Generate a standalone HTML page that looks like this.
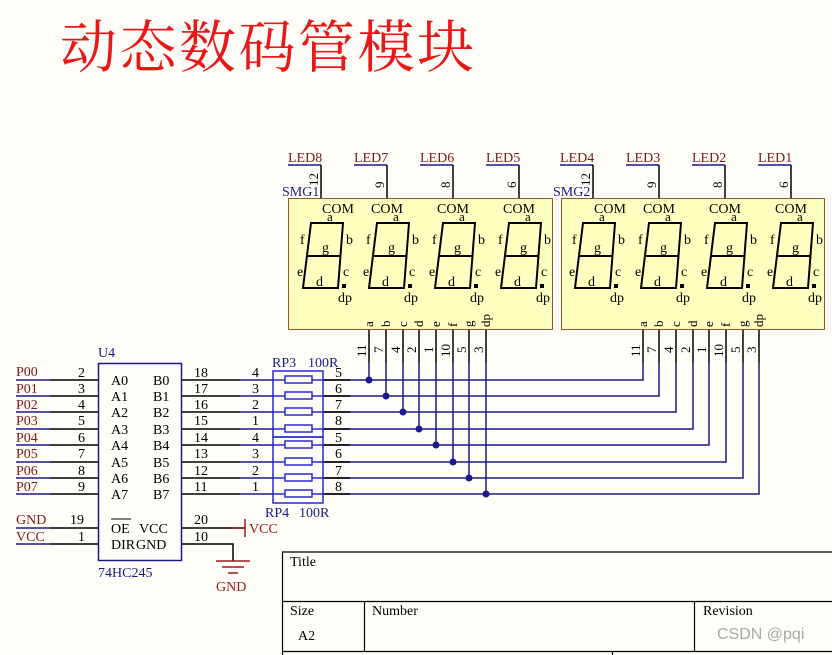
<!DOCTYPE html>
<html><head><meta charset="utf-8"><style>
html,body{margin:0;padding:0;background:#fffdf8;}
svg{display:block;font-family:"Liberation Serif","Noto Serif CJK SC",serif;}
</style></head><body>
<svg width="832" height="655" viewBox="0 0 832 655" xmlns="http://www.w3.org/2000/svg">
<rect width="832" height="655" fill="#fffdf8"/>
<text x="60" y="67" font-size="57" fill="#e81818" font-family="'Noto Serif CJK SC',serif" textLength="414">动态数码管模块</text>

<rect x="288.5" y="198.5" width="264" height="131" fill="#ffffc0" stroke="#a0522d" stroke-width="1"/>
<rect x="561.5" y="198.5" width="263" height="131" fill="#ffffc0" stroke="#a0522d" stroke-width="1"/>
<text x="282" y="196" font-size="14" fill="#1a1a8c">SMG1</text>
<text x="553" y="196" font-size="14" fill="#1a1a8c">SMG2</text>

<g font-size="14" fill="#7a1a1a">
<text x="288" y="162">LED8</text><text x="354" y="162">LED7</text><text x="420" y="162">LED6</text><text x="486" y="162">LED5</text>
<text x="560" y="162">LED4</text><text x="626" y="162">LED3</text><text x="692" y="162">LED2</text><text x="758" y="162">LED1</text>
</g>
<g stroke="#1a1a8c" stroke-width="1.5">
<line x1="288" y1="165" x2="321" y2="165"/><line x1="354" y1="165" x2="387" y2="165"/><line x1="420" y1="165" x2="453" y2="165"/><line x1="486" y1="165" x2="519" y2="165"/>
<line x1="560" y1="165" x2="593" y2="165"/><line x1="626" y1="165" x2="659" y2="165"/><line x1="692" y1="165" x2="725" y2="165"/><line x1="758" y1="165" x2="791" y2="165"/>
</g>
<g stroke="#000" stroke-width="1.5">
<line x1="321" y1="165" x2="321" y2="198"/><line x1="387" y1="165" x2="387" y2="198"/><line x1="453" y1="165" x2="453" y2="198"/><line x1="519" y1="165" x2="519" y2="198"/>
<line x1="593" y1="165" x2="593" y2="198"/><line x1="659" y1="165" x2="659" y2="198"/><line x1="725" y1="165" x2="725" y2="198"/><line x1="791" y1="165" x2="791" y2="198"/>
</g>
<g font-size="13" fill="#000">
<text transform="translate(318,186) rotate(-90)">12</text><text transform="translate(384,188) rotate(-90)">9</text><text transform="translate(450,188) rotate(-90)">8</text><text transform="translate(516,188) rotate(-90)">6</text>
<text transform="translate(590,186) rotate(-90)">12</text><text transform="translate(656,188) rotate(-90)">9</text><text transform="translate(722,188) rotate(-90)">8</text><text transform="translate(788,188) rotate(-90)">6</text>
</g>

<g font-size="14" fill="#000">
<g fill="none" stroke="#000" stroke-width="2"><polygon points="311,223 343,223 338,288 303,288"/><line x1="307" y1="256" x2="341" y2="256"/></g>
<text x="327" y="221" font-size="13">a</text><text x="300" y="244">f</text><text x="322" y="252">g</text><text x="346" y="244">b</text><text x="297" y="276">e</text><text x="316" y="286">d</text><text x="343" y="276">c</text><rect x="342" y="284" width="4" height="4"/><text x="338" y="302">dp</text>
</g>
<g font-size="14" fill="#000">
<text x="322" y="213">COM</text>
<text x="371" y="213">COM</text><text x="437" y="213">COM</text><text x="503" y="213">COM</text>
<text x="594" y="213">COM</text>
<text x="643" y="213">COM</text><text x="709" y="213">COM</text><text x="775" y="213">COM</text>
</g>
<g transform="translate(66,0)" font-size="14" fill="#000"><g fill="none" stroke="#000" stroke-width="2"><polygon points="311,223 343,223 338,288 303,288"/><line x1="307" y1="256" x2="341" y2="256"/></g><text x="327" y="221" font-size="13">a</text><text x="300" y="244">f</text><text x="322" y="252">g</text><text x="346" y="244">b</text><text x="297" y="276">e</text><text x="316" y="286">d</text><text x="343" y="276">c</text><rect x="342" y="284" width="4" height="4"/><text x="338" y="302">dp</text></g>
<g transform="translate(132,0)" font-size="14" fill="#000"><g fill="none" stroke="#000" stroke-width="2"><polygon points="311,223 343,223 338,288 303,288"/><line x1="307" y1="256" x2="341" y2="256"/></g><text x="327" y="221" font-size="13">a</text><text x="300" y="244">f</text><text x="322" y="252">g</text><text x="346" y="244">b</text><text x="297" y="276">e</text><text x="316" y="286">d</text><text x="343" y="276">c</text><rect x="342" y="284" width="4" height="4"/><text x="338" y="302">dp</text></g>
<g transform="translate(198,0)" font-size="14" fill="#000"><g fill="none" stroke="#000" stroke-width="2"><polygon points="311,223 343,223 338,288 303,288"/><line x1="307" y1="256" x2="341" y2="256"/></g><text x="327" y="221" font-size="13">a</text><text x="300" y="244">f</text><text x="322" y="252">g</text><text x="346" y="244">b</text><text x="297" y="276">e</text><text x="316" y="286">d</text><text x="343" y="276">c</text><rect x="342" y="284" width="4" height="4"/><text x="338" y="302">dp</text></g>
<g transform="translate(272,0)" font-size="14" fill="#000"><g fill="none" stroke="#000" stroke-width="2"><polygon points="311,223 343,223 338,288 303,288"/><line x1="307" y1="256" x2="341" y2="256"/></g><text x="327" y="221" font-size="13">a</text><text x="300" y="244">f</text><text x="322" y="252">g</text><text x="346" y="244">b</text><text x="297" y="276">e</text><text x="316" y="286">d</text><text x="343" y="276">c</text><rect x="342" y="284" width="4" height="4"/><text x="338" y="302">dp</text></g>
<g transform="translate(338,0)" font-size="14" fill="#000"><g fill="none" stroke="#000" stroke-width="2"><polygon points="311,223 343,223 338,288 303,288"/><line x1="307" y1="256" x2="341" y2="256"/></g><text x="327" y="221" font-size="13">a</text><text x="300" y="244">f</text><text x="322" y="252">g</text><text x="346" y="244">b</text><text x="297" y="276">e</text><text x="316" y="286">d</text><text x="343" y="276">c</text><rect x="342" y="284" width="4" height="4"/><text x="338" y="302">dp</text></g>
<g transform="translate(404,0)" font-size="14" fill="#000"><g fill="none" stroke="#000" stroke-width="2"><polygon points="311,223 343,223 338,288 303,288"/><line x1="307" y1="256" x2="341" y2="256"/></g><text x="327" y="221" font-size="13">a</text><text x="300" y="244">f</text><text x="322" y="252">g</text><text x="346" y="244">b</text><text x="297" y="276">e</text><text x="316" y="286">d</text><text x="343" y="276">c</text><rect x="342" y="284" width="4" height="4"/><text x="338" y="302">dp</text></g>
<g transform="translate(470,0)" font-size="14" fill="#000"><g fill="none" stroke="#000" stroke-width="2"><polygon points="311,223 343,223 338,288 303,288"/><line x1="307" y1="256" x2="341" y2="256"/></g><text x="327" y="221" font-size="13">a</text><text x="300" y="244">f</text><text x="322" y="252">g</text><text x="346" y="244">b</text><text x="297" y="276">e</text><text x="316" y="286">d</text><text x="343" y="276">c</text><rect x="342" y="284" width="4" height="4"/><text x="338" y="302">dp</text></g>

<g font-size="13" fill="#000">
<text transform="translate(373,327) rotate(-90)">a</text><text transform="translate(390,327) rotate(-90)">b</text><text transform="translate(407,327) rotate(-90)">c</text><text transform="translate(423,327) rotate(-90)">d</text><text transform="translate(440,327) rotate(-90)">e</text><text transform="translate(457,327) rotate(-90)">f</text><text transform="translate(473,327) rotate(-90)">g</text><text transform="translate(490,327) rotate(-90)">dp</text>
<text transform="translate(647,327) rotate(-90)">a</text><text transform="translate(663,327) rotate(-90)">b</text><text transform="translate(680,327) rotate(-90)">c</text><text transform="translate(697,327) rotate(-90)">d</text><text transform="translate(713,327) rotate(-90)">e</text><text transform="translate(730,327) rotate(-90)">f</text><text transform="translate(747,327) rotate(-90)">g</text><text transform="translate(763,327) rotate(-90)">dp</text>
<text transform="translate(366,357) rotate(-90)">11</text><text transform="translate(383,353) rotate(-90)">7</text><text transform="translate(400,353) rotate(-90)">4</text><text transform="translate(416,353) rotate(-90)">2</text><text transform="translate(433,353) rotate(-90)">1</text><text transform="translate(450,357) rotate(-90)">10</text><text transform="translate(466,353) rotate(-90)">5</text><text transform="translate(483,353) rotate(-90)">3</text>
<text transform="translate(640,357) rotate(-90)">11</text><text transform="translate(656,353) rotate(-90)">7</text><text transform="translate(673,353) rotate(-90)">4</text><text transform="translate(690,353) rotate(-90)">2</text><text transform="translate(706,353) rotate(-90)">1</text><text transform="translate(723,357) rotate(-90)">10</text><text transform="translate(740,353) rotate(-90)">5</text><text transform="translate(756,353) rotate(-90)">3</text>
</g>

<g fill="none" stroke="#1a1a8c" stroke-width="1.5">
<polyline points="323,380 643,380 643,363"/>
<polyline points="323,396 659,396 659,363"/>
<polyline points="323,412 676,412 676,363"/>
<polyline points="323,429 693,429 693,363"/>
<polyline points="323,445 709,445 709,363"/>
<polyline points="323,462 726,462 726,363"/>
<polyline points="323,478 743,478 743,363"/>
<polyline points="323,494 759,494 759,363"/>
<line x1="369" y1="363" x2="369" y2="380"/><line x1="386" y1="363" x2="386" y2="396"/><line x1="403" y1="363" x2="403" y2="412"/><line x1="419" y1="363" x2="419" y2="429"/>
<line x1="436" y1="363" x2="436" y2="445"/><line x1="453" y1="363" x2="453" y2="462"/><line x1="469" y1="363" x2="469" y2="478"/><line x1="486" y1="363" x2="486" y2="494"/>
</g>
<g stroke="#000" stroke-width="1.5">
<line x1="369" y1="330" x2="369" y2="363"/><line x1="386" y1="330" x2="386" y2="363"/><line x1="403" y1="330" x2="403" y2="363"/><line x1="419" y1="330" x2="419" y2="363"/><line x1="436" y1="330" x2="436" y2="363"/><line x1="453" y1="330" x2="453" y2="363"/><line x1="469" y1="330" x2="469" y2="363"/><line x1="486" y1="330" x2="486" y2="363"/>
<line x1="643" y1="330" x2="643" y2="363"/><line x1="659" y1="330" x2="659" y2="363"/><line x1="676" y1="330" x2="676" y2="363"/><line x1="693" y1="330" x2="693" y2="363"/><line x1="709" y1="330" x2="709" y2="363"/><line x1="726" y1="330" x2="726" y2="363"/><line x1="743" y1="330" x2="743" y2="363"/><line x1="759" y1="330" x2="759" y2="363"/>
<line x1="323" y1="380" x2="350" y2="380"/><line x1="323" y1="396" x2="350" y2="396"/><line x1="323" y1="412" x2="350" y2="412"/><line x1="323" y1="429" x2="350" y2="429"/><line x1="323" y1="445" x2="350" y2="445"/><line x1="323" y1="462" x2="350" y2="462"/><line x1="323" y1="478" x2="350" y2="478"/><line x1="323" y1="494" x2="350" y2="494"/>
</g>
<g fill="#1a1a8c">
<circle cx="369" cy="380" r="3.5"/><circle cx="386" cy="396" r="3.5"/><circle cx="403" cy="412" r="3.5"/><circle cx="419" cy="429" r="3.5"/><circle cx="436" cy="445" r="3.5"/><circle cx="453" cy="462" r="3.5"/><circle cx="469" cy="478" r="3.5"/><circle cx="486" cy="494" r="3.5"/>
</g>

<g fill="none" stroke="#2a2ad0" stroke-width="1.5">
<rect x="273" y="371" width="50" height="66"/>
<rect x="273" y="437" width="50" height="66"/>
<rect x="285" y="376" width="27" height="7"/><rect x="285" y="392" width="27" height="7"/><rect x="285" y="408" width="27" height="7"/><rect x="285" y="425" width="27" height="7"/>
<rect x="285" y="441" width="27" height="7"/><rect x="285" y="458" width="27" height="7"/><rect x="285" y="474" width="27" height="7"/><rect x="285" y="490" width="27" height="7"/>
</g>
<g stroke="#2a2ad0" stroke-width="1.5">
<line x1="273" y1="380" x2="285" y2="380"/><line x1="312" y1="380" x2="323" y2="380"/>
<line x1="273" y1="396" x2="285" y2="396"/><line x1="312" y1="396" x2="323" y2="396"/>
<line x1="273" y1="412" x2="285" y2="412"/><line x1="312" y1="412" x2="323" y2="412"/>
<line x1="273" y1="429" x2="285" y2="429"/><line x1="312" y1="429" x2="323" y2="429"/>
<line x1="273" y1="445" x2="285" y2="445"/><line x1="312" y1="445" x2="323" y2="445"/>
<line x1="273" y1="462" x2="285" y2="462"/><line x1="312" y1="462" x2="323" y2="462"/>
<line x1="273" y1="478" x2="285" y2="478"/><line x1="312" y1="478" x2="323" y2="478"/>
<line x1="273" y1="494" x2="285" y2="494"/><line x1="312" y1="494" x2="323" y2="494"/>
</g>
<g font-size="14" fill="#1a1a8c"><text x="272" y="367">RP3</text><text x="308" y="367">100R</text><text x="265" y="517">RP4</text><text x="299" y="517">100R</text></g>
<g font-size="14" fill="#000">
<text x="335" y="377">5</text><text x="335" y="393">6</text><text x="335" y="409">7</text><text x="335" y="425">8</text><text x="335" y="442">5</text><text x="335" y="458">6</text><text x="335" y="475">7</text><text x="335" y="491">8</text>
<text x="252" y="377">4</text><text x="252" y="393">3</text><text x="252" y="409">2</text><text x="252" y="425">1</text><text x="252" y="442">4</text><text x="252" y="458">3</text><text x="252" y="475">2</text><text x="252" y="491">1</text>
<text x="194" y="377">18</text><text x="194" y="393">17</text><text x="194" y="409">16</text><text x="194" y="425">15</text><text x="194" y="442">14</text><text x="194" y="458">13</text><text x="194" y="475">12</text><text x="194" y="491">11</text>
<text x="78" y="377">2</text><text x="78" y="393">3</text><text x="78" y="409">4</text><text x="78" y="425">5</text><text x="78" y="442">6</text><text x="78" y="458">7</text><text x="78" y="475">8</text><text x="78" y="491">9</text>
</g>
<g stroke="#000" stroke-width="1.5">
<line x1="181" y1="380" x2="240" y2="380"/><line x1="181" y1="396" x2="240" y2="396"/><line x1="181" y1="412" x2="240" y2="412"/><line x1="181" y1="429" x2="240" y2="429"/><line x1="181" y1="445" x2="240" y2="445"/><line x1="181" y1="462" x2="240" y2="462"/><line x1="181" y1="478" x2="240" y2="478"/><line x1="181" y1="494" x2="240" y2="494"/>
<line x1="50" y1="380" x2="98" y2="380"/><line x1="50" y1="396" x2="98" y2="396"/><line x1="50" y1="412" x2="98" y2="412"/><line x1="50" y1="429" x2="98" y2="429"/><line x1="50" y1="445" x2="98" y2="445"/><line x1="50" y1="462" x2="98" y2="462"/><line x1="50" y1="478" x2="98" y2="478"/><line x1="50" y1="494" x2="98" y2="494"/>
<line x1="50" y1="528" x2="98" y2="528"/><line x1="50" y1="544" x2="98" y2="544"/>
<line x1="181" y1="528" x2="245" y2="528"/>
<polyline fill="none" points="181,544 233,544 233,561"/>
</g>
<g stroke="#1a1a8c" stroke-width="1.5">
<line x1="240" y1="380" x2="273" y2="380"/><line x1="240" y1="396" x2="273" y2="396"/><line x1="240" y1="412" x2="273" y2="412"/><line x1="240" y1="429" x2="273" y2="429"/><line x1="240" y1="445" x2="273" y2="445"/><line x1="240" y1="462" x2="273" y2="462"/><line x1="240" y1="478" x2="273" y2="478"/><line x1="240" y1="494" x2="273" y2="494"/>
<line x1="16" y1="380" x2="50" y2="380"/><line x1="16" y1="396" x2="50" y2="396"/><line x1="16" y1="412" x2="50" y2="412"/><line x1="16" y1="429" x2="50" y2="429"/><line x1="16" y1="445" x2="50" y2="445"/><line x1="16" y1="462" x2="50" y2="462"/><line x1="16" y1="478" x2="50" y2="478"/><line x1="16" y1="494" x2="50" y2="494"/>
<line x1="16" y1="528" x2="50" y2="528"/><line x1="16" y1="544" x2="50" y2="544"/>
</g>
<g font-size="14" fill="#7a1a1a">
<text x="16" y="376">P00</text><text x="16" y="393">P01</text><text x="16" y="409">P02</text><text x="16" y="425">P03</text><text x="16" y="442">P04</text><text x="16" y="458">P05</text><text x="16" y="475">P06</text><text x="16" y="491">P07</text>
<text x="16" y="524">GND</text><text x="16" y="541">VCC</text>
</g>
<g font-size="14" fill="#000"><text x="70" y="524">19</text><text x="78" y="541">1</text><text x="194" y="524">20</text><text x="194" y="541">10</text></g>
<rect x="98.5" y="363.5" width="83" height="197" fill="none" stroke="#1a1a8c" stroke-width="1.5"/>
<text x="98" y="357" font-size="14" fill="#1a1a8c">U4</text>
<text x="98" y="577" font-size="14" fill="#1a1a8c">74HC245</text>
<g font-size="14" fill="#000">
<text x="111" y="385">A0</text><text x="111" y="401">A1</text><text x="111" y="417">A2</text><text x="111" y="434">A3</text><text x="111" y="450">A4</text><text x="111" y="467">A5</text><text x="111" y="483">A6</text><text x="111" y="499">A7</text>
<text x="153" y="385">B0</text><text x="153" y="401">B1</text><text x="153" y="417">B2</text><text x="153" y="434">B3</text><text x="153" y="450">B4</text><text x="153" y="467">B5</text><text x="153" y="483">B6</text><text x="153" y="499">B7</text>
<text x="111" y="533">OE</text><text x="139" y="533">VCC</text><text x="111" y="549">DIR</text><text x="136" y="549">GND</text>
</g>
<line x1="111" y1="519" x2="131" y2="519" stroke="#000" stroke-width="1"/>
<line x1="245" y1="519" x2="245" y2="537" stroke="#a01a1a" stroke-width="1.5"/>
<line x1="233" y1="528" x2="245" y2="528" stroke="#a01a1a" stroke-width="1.5"/>
<text x="249" y="533" font-size="14" fill="#a01a1a">VCC</text>
<g stroke="#a01a1a" stroke-width="1.5"><line x1="216" y1="561" x2="250" y2="561"/><line x1="222" y1="567" x2="244" y2="567"/><line x1="228" y1="573" x2="238" y2="573"/></g>
<text x="216" y="591" font-size="14" fill="#a01a1a">GND</text>

<g stroke="#000" stroke-width="1.2" fill="none">
<polyline points="832,552 282.5,552 282.5,655"/>
<line x1="282" y1="601.5" x2="832" y2="601.5"/>
<line x1="364.5" y1="601" x2="364.5" y2="651"/>
<line x1="694.5" y1="601" x2="694.5" y2="651"/>
<line x1="282" y1="651.5" x2="832" y2="651.5"/>
<line x1="612.5" y1="651" x2="612.5" y2="655"/>
</g>
<g font-size="14" fill="#000">
<text x="290" y="566">Title</text><text x="290" y="615">Size</text><text x="298" y="640">A2</text><text x="372" y="615">Number</text><text x="703" y="615">Revision</text>
</g>
<text x="717" y="639" font-size="16" fill="#a8a8a8" font-family="'Liberation Sans',sans-serif">CSDN @pqi</text>
</svg>
</body></html>
